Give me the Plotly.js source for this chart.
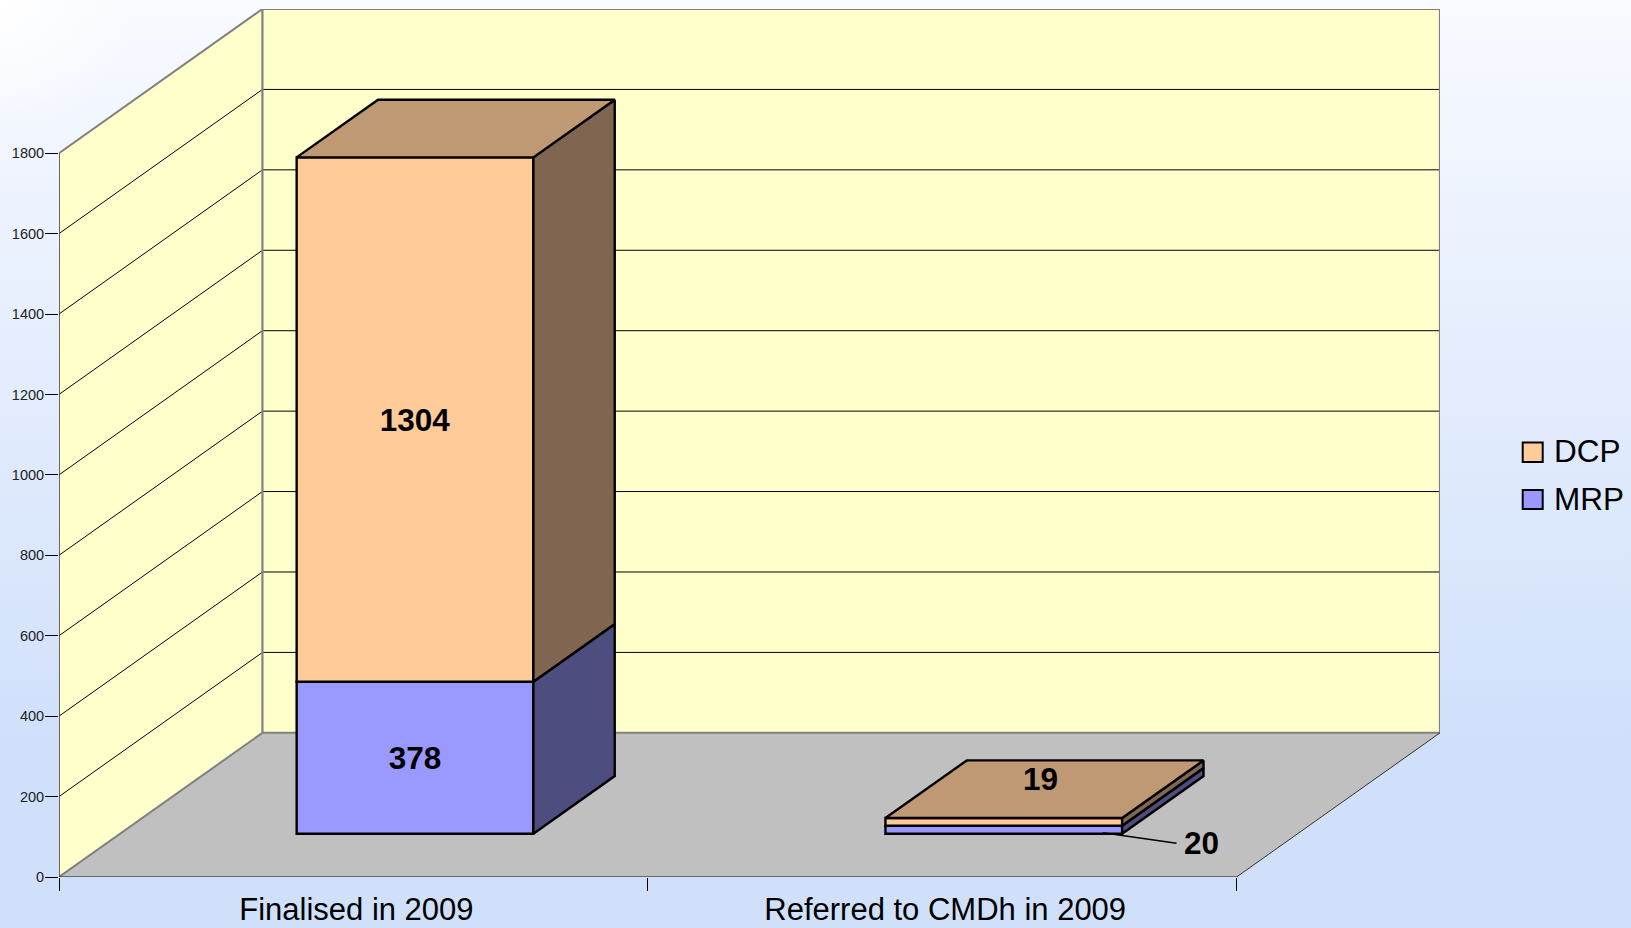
<!DOCTYPE html>
<html>
<head>
<meta charset="utf-8">
<script src="https://cdn.plot.ly/plotly-3.0.1.min.js"></script>
<style>
html,body{margin:0;padding:0;width:1631px;height:928px;overflow:hidden;
background:radial-gradient(circle at 0 0,#ffffff 0,rgba(255,255,255,0) 140px),linear-gradient(180deg,#f8faff 0%,#d0e0fb 80%,#d0e0fb 100%);}
#chart{width:1631px;height:928px;}
</style>
</head>
<body>
<div id="chart"></div>
<script>
// ---- data ----
const categories = ['Finalised in 2009', 'Referred to CMDh in 2009'];
const dcpValues = [1304, 19];
const mrpValues = [378, 20];
const valueTicks = [0, 200, 400, 600, 800, 1000, 1200, 1400, 1600, 1800];
const seriesNames = ['DCP', 'MRP'];

// ---- view ----
const W = 1631, H = 928;
const M = {l: 59, r: 191, t: 9, b: 51};
const MAXV = 1800;
const DX = 203.5 / 589;        // depth shift in category units
const DY = 144 / 0.4017;       // depth shift in value units
const D0 = 0.3, D1 = 0.7;      // bar depth span
const BARW = 0.402;
const BARC = 0.501;            // bar centre within its category
const FONT = '"Liberation Sans", Arial, sans-serif';

const C = {
  dcp: '#FFCC99', dcpSide: '#806650', dcpTop: '#BF9973',
  mrp: '#9999FF', mrpSide: '#4D4D80',
  wall: '#FFFFCC', floor: '#C0C0C0', edge: '#808080'
};

// oblique projection: category position, value, depth -> axis coordinates
const P = (c, v, d) => [c + d * DX, v + d * DY];
const poly = pts => {
  const xy = pts.map(p => P(p[0], p[1], p[2]));
  return 'M' + xy.map(q => q[0] + ',' + q[1]).join('L') + 'Z';
};
const seg = (a, b, color, width) => {
  const p = P(a[0], a[1], a[2]), q = P(b[0], b[1], b[2]);
  return {type: 'line', layer: 'below', xref: 'x', yref: 'y', x0: p[0], y0: p[1], x1: q[0], y1: q[1],
          line: {color: color, width: width}};
};
const area = (pts, fill) => ({type: 'path', layer: 'below', xref: 'x', yref: 'y', path: poly(pts),
          fillcolor: fill, line: {width: 0}});

const N = categories.length;
const shapes = [];
// back wall, side wall, floor
shapes.push(area([[0,0,1],[N,0,1],[N,MAXV,1],[0,MAXV,1]], C.wall));
shapes.push(area([[0,0,0],[0,0,1],[0,MAXV,1],[0,MAXV,0]], C.wall));
shapes.push(area([[0,0,0],[N,0,0],[N,0,1],[0,0,1]], C.floor));
// grid
valueTicks.filter(v => v > 0 && v < MAXV).forEach(v => {
  shapes.push(seg([0,v,0],[0,v,1],'#000',1));
  shapes.push(seg([0,v,1],[N,v,1],'#000',1));
});
// wall edges
shapes.push(seg([0,MAXV,0],[0,MAXV,1],C.edge,2));
shapes.push(seg([0,MAXV,1],[N,MAXV,1],C.edge,2));
shapes.push(seg([0,0,1],[0,MAXV,1],C.edge,2.2));
shapes.push(seg([N,0,1],[N,MAXV,1],C.edge,2.2));
shapes.push(seg([0,0,1],[N,0,1],C.edge,2));
shapes.push(seg([0,0,0],[0,0,1],C.edge,2));
shapes.push(seg([N,0,0],[N,0,1],'#333',1));
shapes.push(seg([0,0,0],[N,0,0],'#111',1));
shapes.push(seg([0,0,0],[0,MAXV,0],'#404040',1.6));

// bars: front faces
const barX = categories.map((_, i) => i + BARC + D0 * DX);
const baseMrp = categories.map(() => D0 * DY);
const baseDcp = mrpValues.map(v => v + D0 * DY);
const barLine = {color: '#000', width: 2.4};
const traces = [
  {type: 'bar', name: seriesNames[1], x: barX, y: mrpValues, base: baseMrp, width: BARW,
   marker: {color: C.mrp, line: barLine},
   text: mrpValues.map((v, i) => i === 0 ? String(v) : ''), textposition: 'inside', insidetextanchor: 'middle',
   textangle: 0, constraintext: 'none', cliponaxis: false,
   insidetextfont: {family: FONT, size: 31.5, color: '#000', weight: 'bold'}, hoverinfo: 'skip'},
  {type: 'bar', name: seriesNames[0], x: barX, y: dcpValues, base: baseDcp, width: BARW,
   marker: {color: C.dcp, line: barLine},
   text: dcpValues.map((v, i) => i === 0 ? String(v) : ''), textposition: 'inside', insidetextanchor: 'middle',
   textangle: 0, constraintext: 'none', cliponaxis: false,
   insidetextfont: {family: FONT, size: 31.5, color: '#000', weight: 'bold'}, hoverinfo: 'skip'}
];

// bars: side and top faces
const face = (pts, fill) => {
  const xy = pts.concat([pts[0]]).map(p => P(p[0], p[1], p[2]));
  return {type: 'scatter', mode: 'lines', x: xy.map(q => q[0]), y: xy.map(q => q[1]), fill: 'toself',
          fillcolor: fill, line: {color: '#000', width: 2.4, simplify: false}, hoverinfo: 'skip', cliponaxis: false, showlegend: false};
};
categories.forEach((_, i) => {
  const L = i + BARC - BARW / 2, R = i + BARC + BARW / 2;
  const a = mrpValues[i], b = a + dcpValues[i];
  traces.push(face([[R,0,D0],[R,a,D0],[R,a,D1],[R,0,D1]], C.mrpSide));
  traces.push(face([[R,a,D0],[R,b,D0],[R,b,D1],[R,a,D1]], C.dcpSide));
  traces.push(face([[L,b,D0],[R,b,D0],[R,b,D1],[L,b,D1]], C.dcpTop));
});

// pixel helpers for legend and small outside labels
const pw = W - M.l - M.r, ph = H - M.t - M.b;
const px = x => (x - M.l) / pw, py = y => 1 - (y - M.t) / ph;

const swatch = (y0, y1, fill) => ({type: 'rect', xref: 'paper', yref: 'paper', layer: 'above',
  x0: px(1522.7), x1: px(1542.7), y0: py(y1), y1: py(y0), fillcolor: fill, line: {color: '#000', width: 2}});
shapes.push(swatch(442.5, 462, C.dcp));
shapes.push(swatch(490, 509, C.mrp));

// leader line for the small MRP value
shapes.push({type: 'line', xref: 'x', yref: 'y', layer: 'above', x0: 1.773, y0: 110, x1: 1.898, y1: 84,
             line: {color: '#000', width: 1.5}});

const boldLabel = (x, y, t) => ({xref: 'x', yref: 'y', x: x, y: y, text: '<b>' + t + '</b>', showarrow: false,
  font: {family: FONT, size: 31.5, color: '#000'}, xanchor: 'center', yanchor: 'middle'});
const legendLabel = (y, t) => ({xref: 'paper', yref: 'paper', x: px(1552), y: py(y), text: t, showarrow: false,
  font: {family: FONT, size: 31.5, color: '#000'}, xanchor: 'left', yanchor: 'middle'});

const annotations = [
  boldLabel(1.667, 243, dcpValues[1]),
  boldLabel(1.941, 84, mrpValues[1]),
  legendLabel(451, seriesNames[0]),
  legendLabel(499, seriesNames[1])
];

const layout = {
  width: W, height: H, autosize: false,
  margin: M,
  paper_bgcolor: 'rgba(0,0,0,0)', plot_bgcolor: 'rgba(0,0,0,0)',
  showlegend: false,
  barmode: 'overlay',
  font: {family: FONT, color: '#000'},
  xaxis: {
    range: [0, N + DX], showgrid: false, zeroline: false, showline: false,
    tickmode: 'array', tickvals: categories.map((_, i) => i + 0.5), ticktext: categories,
    ticks: '', ticklabelstandoff: 11, ticklabelshift: 3,
    tickfont: {family: FONT, size: 31, color: '#000'},
    minor: {tickmode: 'array', tickvals: categories.map((_, i) => i).concat([N]), ticks: 'outside', ticklen: 13, tickwidth: 1, tickcolor: '#000', showgrid: false}
  },
  yaxis: {
    range: [0, MAXV + DY], showgrid: false, zeroline: false, showline: false,
    tickmode: 'array', tickvals: valueTicks, ticks: 'outside', ticklen: 13, tickwidth: 1, tickcolor: '#000',
    ticklabelstandoff: -2,
    tickfont: {family: FONT, size: 14.5, color: '#222'}
  },
  shapes: shapes,
  annotations: annotations
};

Plotly.newPlot('chart', traces, layout, {displayModeBar: false, responsive: false});
</script>
</body>
</html>
